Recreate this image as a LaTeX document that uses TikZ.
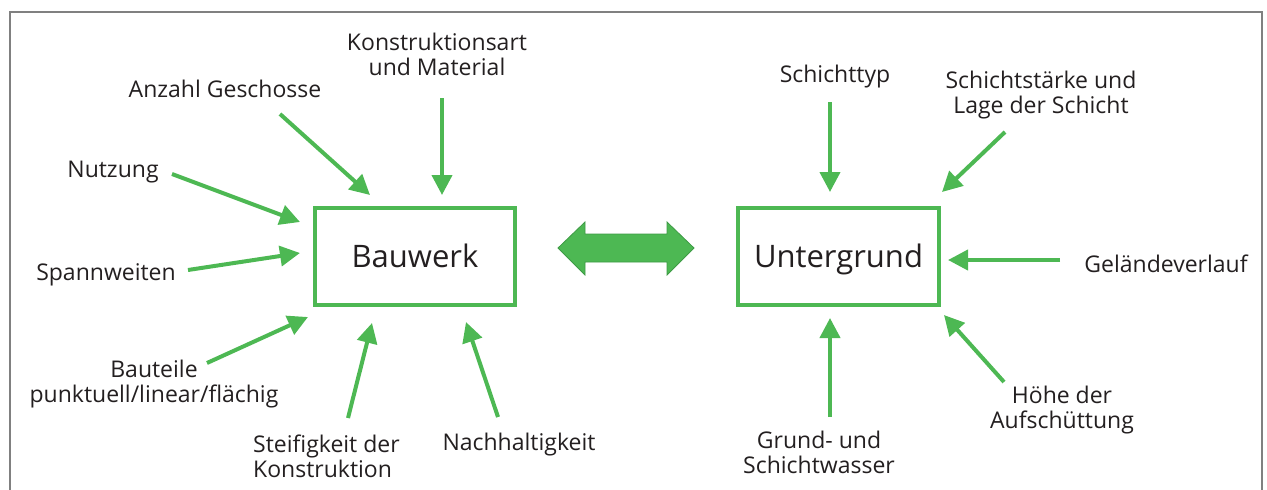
\documentclass[tikz,border=0pt]{standalone}
\usepackage{fontspec}
\setmainfont{Open Sans}
\usetikzlibrary{arrows.meta}
\definecolor{gr}{HTML}{4DB853}
\definecolor{grdark}{HTML}{3E9A45}
\definecolor{txt}{HTML}{231F20}
\definecolor{frame}{HTML}{808080}
\tikzset{
  lbl/.style={text=txt, font=\fontsize{23}{25}\selectfont, inner sep=0pt, align=center},
  boxlbl/.style={draw=gr, line width=3.5pt, text=txt, font=\fontsize{31}{34}\selectfont,
    inner sep=0pt, text height=22pt, text depth=0pt},
  arr/.style={draw=gr, line width=4pt, -{Triangle[length=20pt,width=20pt]}},
}
\begin{document}
\begin{tikzpicture}[x=1pt,y=-1pt]
\useasboundingbox (0,0) rectangle (1267,490);
\draw[frame, line width=1.6pt] (10,491) -- (10,12) -- (1262,12) -- (1262,491);

% boxes
\node[boxlbl, minimum width=200pt, minimum height=97pt] (bau) at (415,256.5) {Bauwerk};
\node[boxlbl, minimum width=201pt, minimum height=97pt] (unt) at (838.5,256.5) {Untergrund};

% double arrow
\draw[fill=gr, draw=grdark, line width=0.8pt]
  (558,248) -- (585,222) -- (585,234) -- (667,234) -- (667,222) -- (694,248)
  -- (667,275) -- (667,262) -- (585,262) -- (585,275) -- cycle;

% labels
\node[lbl] (kon) at (437,54) {Konstruktionsart\\und Material};
\node[lbl] (anz) at (225,89) {Anzahl Geschosse};
\node[lbl] (nut) at (113,172) {Nutzung};
\node[lbl] (spa) at (106,275) {Spannweiten};
\node[lbl] (btl) at (154,384) {Bauteile\\punktuell/linear/flächig};
\node[lbl, align=left, anchor=west] (ste) at (253,456) {Steifigkeit der\\Konstruktion};
\node[lbl] (nac) at (519,445) {Nachhaltigkeit};
\node[lbl] (sty) at (835,77) {Schichttyp};
\node[lbl] (sst) at (1041,95) {Schichtstärke und\\Lage der Schicht};
\node[lbl] (gel) at (1166,264) {Geländeverlauf};
\node[lbl] (hoe) at (1062,410) {Höhe der\\Aufschüttung};
\node[lbl] (gru) at (819,452.5) {Grund- und\\Schichtwasser};

% connector end points
\coordinate (kon1) at (442,98);   \coordinate (kon2) at (442,195);
\coordinate (anz1) at (280,114);  \coordinate (anz2) at (370,195);
\coordinate (nut1) at (172,174);  \coordinate (nut2) at (300,222);
\coordinate (spa1) at (188,270);  \coordinate (spa2) at (300,253);
\coordinate (btl1) at (207,363);  \coordinate (btl2) at (308,317);
\coordinate (ste1) at (348,418);  \coordinate (ste2) at (372,323);
\coordinate (nac1) at (498,417);  \coordinate (nac2) at (466,322);
\coordinate (sty1) at (830,102);  \coordinate (sty2) at (830,192);
\coordinate (sst1) at (1005,132); \coordinate (sst2) at (942,192);
\coordinate (gel1) at (1060,260); \coordinate (gel2) at (948,260);
\coordinate (gru1) at (830,417);  \coordinate (gru2) at (830,318);
\coordinate (hoe1) at (1004,382); \coordinate (hoe2) at (944,315);

\foreach \n in {kon,anz,nut,spa,btl,ste,nac,sty,sst,gel,gru,hoe}
  \draw[arr] (\n1) -- (\n2);
\end{tikzpicture}
\end{document}
